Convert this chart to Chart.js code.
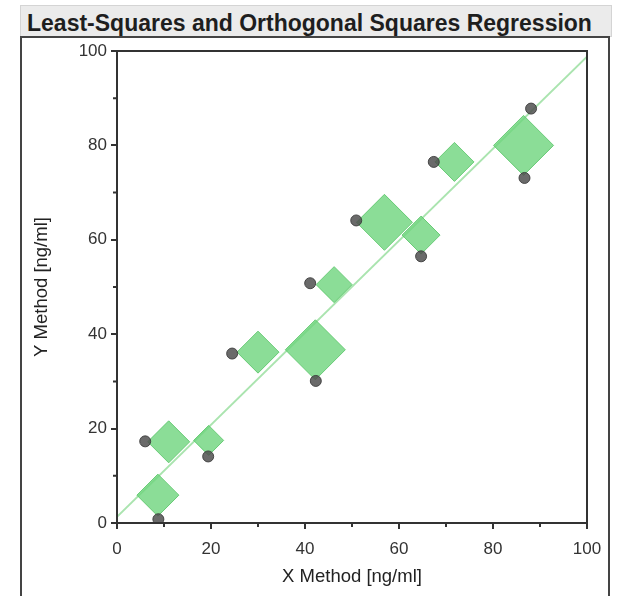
<!DOCTYPE html>
<html>
<head>
<meta charset="utf-8">
<script src="https://cdn.jsdelivr.net/npm/chart.js@4.4.1/dist/chart.umd.min.js"></script>
<style>
  body { margin: 0; width: 618px; height: 596px; overflow: hidden; position: relative; background: #fff; font-family: Arial, "Liberation Sans", sans-serif; }
  #title { position: absolute; left: 20px; top: 5px; width: 592px; height: 32px; box-sizing: border-box;
           background: #ebebeb; border: 1px solid #d4d4d4; color: #1e1e1e;
           font: bold 23px Arial, "Liberation Sans", sans-serif; line-height: 30px; padding: 2px 0 0 6px; white-space: nowrap; overflow: hidden; }
  #frame { position: absolute; left: 20px; top: 36px; width: 590px; height: 600px; box-sizing: border-box; border: 2px solid #444; }
  #chart { position: absolute; left: 0; top: 0; }
</style>
</head>
<body>
<div id="title">Least-Squares and Orthogonal Squares Regression</div>
<div id="frame"></div>
<canvas id="chart" width="618" height="596"></canvas>
<script>
// measured points (grey dots)
var pointX = [6.0, 8.8, 19.4, 24.5, 42.3, 41.1, 50.9, 64.7, 67.4, 86.7, 88.1];
var pointY = [17.3, 0.8, 14.1, 35.9, 30.1, 50.8, 64.1, 56.5, 76.5, 73.1, 87.8];

// orthogonal fit points (green diamonds), weight = marker size
var fitX = [8.7, 11.0, 19.5, 30.0, 42.2, 46.2, 56.9, 64.7, 71.8, 86.5];
var fitY = [5.9, 17.2, 17.5, 36.2, 36.7, 50.5, 63.7, 61.0, 76.5, 80.0];
var fitWeight = [21, 21, 15, 21, 30, 18, 28, 19, 19.5, 30];

// regression line end points
var lineX = [0, 100];
var lineY = [1.3, 98.8];

var majorTicks = [0, 20, 40, 60, 80, 100];
var minorTicks = [10, 30, 50, 70, 90];

var frameBox = {
    id: 'frameBox',
    afterDatasetsDraw: function(chart) {
        var ctx = chart.ctx, a = chart.chartArea;
        var sx = chart.scales.x, sy = chart.scales.y;
        ctx.save();
        ctx.strokeStyle = '#333';
        ctx.lineWidth = 2;
        ctx.strokeRect(a.left, a.top, a.right - a.left, a.bottom - a.top);
        ctx.beginPath();
        minorTicks.forEach(function(v) {
            var px = sx.getPixelForValue(v);
            ctx.moveTo(px, a.bottom);
            ctx.lineTo(px, a.bottom + 4);
            var py = sy.getPixelForValue(v);
            ctx.moveTo(a.left, py);
            ctx.lineTo(a.left - 4, py);
        });
        ctx.stroke();
        ctx.restore();
    }
};

var tickFont = { family: 'Arial, "Liberation Sans", sans-serif', size: 17 };
var titleFont = { family: 'Arial, "Liberation Sans", sans-serif', size: 18.5 };

new Chart(document.getElementById('chart').getContext('2d'), {
    type: 'scatter',
    data: {
        datasets: [{
            type: 'scatter',
            order: 0,
            data: pointX.map(function(x, i) { return { x: x, y: pointY[i] }; }),
            pointRadius: 5.5,
            pointBackgroundColor: 'rgba(80, 80, 80, 0.85)',
            pointBorderColor: 'rgba(60, 60, 60, 0.9)',
            pointBorderWidth: 1
        }, {
            type: 'bubble',
            order: 1,
            data: fitX.map(function(x, i) { return { x: x, y: fitY[i], r: fitWeight[i] }; }),
            pointStyle: 'rectRot',
            backgroundColor: 'rgba(110, 212, 125, 0.8)',
            borderColor: 'rgba(95, 200, 110, 0.9)',
            borderWidth: 1
        }, {
            type: 'line',
            order: 2,
            data: lineX.map(function(x, i) { return { x: x, y: lineY[i] }; }),
            borderColor: 'rgb(170, 228, 175)',
            borderWidth: 2,
            pointRadius: 0,
            fill: false
        }]
    },
    options: {
        responsive: false,
        animation: false,
        events: [],
        layout: { padding: { left: 0, top: 51, right: 31, bottom: 0 } },
        plugins: { legend: { display: false }, tooltip: { enabled: false } },
        scales: {
            x: {
                type: 'linear', min: 0, max: 100,
                afterBuildTicks: function(s) { s.ticks = majorTicks.map(function(v) { return { value: v }; }); },
                afterFit: function(s) { s.height = 73; },
                ticks: { font: tickFont, color: '#333', padding: 10, maxRotation: 0 },
                grid: { drawOnChartArea: false, drawTicks: true, tickLength: 6, color: '#333', lineWidth: 2 },
                border: { display: false },
                title: { display: true, text: 'X Method [ng/ml]', font: titleFont, color: '#222', padding: { top: 0, bottom: 8 } }
            },
            y: {
                type: 'linear', min: 0, max: 100,
                afterBuildTicks: function(s) { s.ticks = majorTicks.map(function(v) { return { value: v }; }); },
                afterFit: function(s) { s.width = 117; },
                ticks: { font: tickFont, color: '#333', padding: 4 },
                grid: { drawOnChartArea: false, drawTicks: true, tickLength: 6, color: '#333', lineWidth: 2 },
                border: { display: false },
                title: { display: true, text: 'Y Method [ng/ml]', font: titleFont, color: '#222', padding: { top: 31, bottom: 0 } }
            }
        }
    },
    plugins: [frameBox]
});
</script>
</body>
</html>
